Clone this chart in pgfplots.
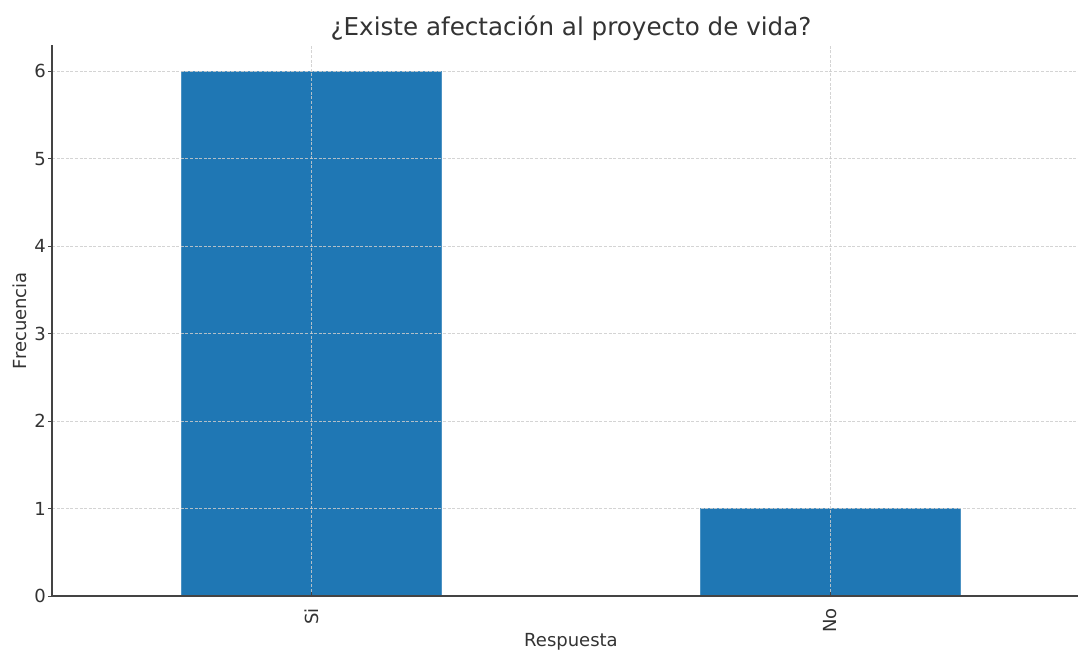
\documentclass[border=0pt]{standalone}
\usepackage{pgfplots}
\pgfplotsset{compat=1.18}
\usetikzlibrary{calc}
\usepackage{fontspec}
\setmainfont{DejaVu Sans}
\definecolor{barblue}{HTML}{1F77B4}
\definecolor{txt}{HTML}{333333}
\definecolor{spine}{HTML}{444444}
\begin{document}
\begin{tikzpicture}
\begin{axis}[
  name=ax,
  at={(0,0)}, anchor=south west,
  scale only axis,
  width=519pt, height=275.6pt,
  xmin=-0.5, xmax=1.5,
  ymin=0, ymax=6.3,
  ybar, bar width=0.5, bar shift=0pt,
  axis lines*=left,
  axis line style={spine, line width=0.7pt},
  axis on top,
  xtick={0,1}, xticklabels={Si, No},
  ytick={0,1,2,3,4,5,6},
  xtick align=inside, ytick align=outside,
  major tick length=2pt,
  tick style={spine, line width=0.6pt},
  grid=major,
  major grid style={dash pattern=on 1.5pt off 0.8pt, gray!40, line width=0.35pt, opacity=0.85},
  font=\fontsize{9}{11}\selectfont,
  tick label style={txt, font=\fontsize{9}{11}\selectfont},
  /pgf/number format/assume math mode=true,
  x tick label style={rotate=90, anchor=east, yshift=0pt},
  xticklabel shift=2.5pt,
  yticklabel shift=-2.5pt,
  xlabel={Respuesta}, ylabel={Frecuencia},
  label style={txt, font=\fontsize{9}{11}\selectfont},
  xlabel style={at={(rel axis cs:0.5,0)}, anchor=center, yshift=-23pt},
  ylabel style={at={(rel axis cs:0,0.5)}, anchor=center, rotate=0, yshift=16pt},
  title={¿Existe afectación al proyecto de vida?},
  title style={txt, font=\fontsize{12.3}{14}\selectfont, at={(rel axis cs:0.5,1)}, anchor=center, yshift=2.6pt},
]
\addplot[fill=barblue, draw=barblue!80!white, line width=0.3pt] coordinates {(0,6) (1,1)};
\end{axis}
\pgfresetboundingbox
\path (ax.south west) ++(-26pt,-28pt) rectangle ($(ax.north west)+(513pt,22.5pt)$);
\end{tikzpicture}
\end{document}
